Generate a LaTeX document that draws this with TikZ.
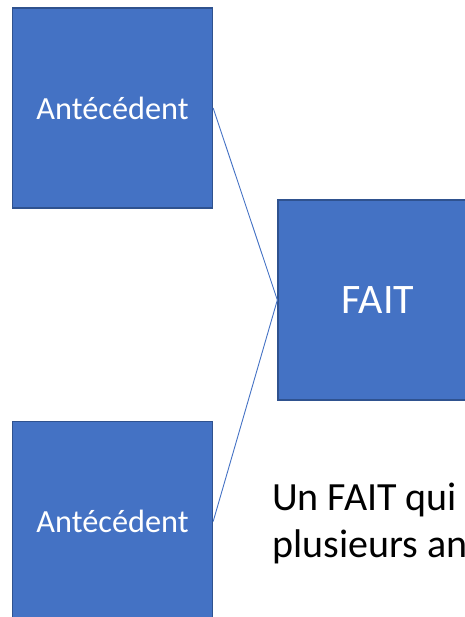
\documentclass[tikz,border=0pt]{standalone}
\usepackage{fontspec}
\setmainfont{Carlito}
\definecolor{boxfill}{HTML}{4472C4}
\definecolor{boxline}{HTML}{2F528F}
\begin{document}
\begin{tikzpicture}[x=1pt,y=-1pt,
  bluebox/.style={draw=boxline,line width=1.3pt,fill=boxfill,minimum width=200pt,minimum height=200pt,inner sep=0pt,text=white},
  link/.style={draw=boxfill,line width=0.9pt}]
\useasboundingbox (0,0) rectangle (464,617);
\node[bluebox,font=\fontsize{32.3}{38}\selectfont] (a1) at (112.5,108) {Antécédent};
\node[bluebox,font=\fontsize{42}{50}\selectfont] (fait) at (378,300) {FAIT};
\node[bluebox,font=\fontsize{32.3}{38}\selectfont] (a2) at (112.5,521.5) {Antécédent};
\draw[link] (a1.east) -- (fait.west);
\draw[link] (a2.east) -- (fait.west);
\node[anchor=base west,inner sep=0pt,font=\fontsize{40}{48}\selectfont] (l1) at (272,510) {Un FAIT qui};
\node[anchor=base west,inner sep=0pt,font=\fontsize{40}{48}\selectfont] (l2) at (272,557) {plusieurs an};
\end{tikzpicture}
\end{document}
